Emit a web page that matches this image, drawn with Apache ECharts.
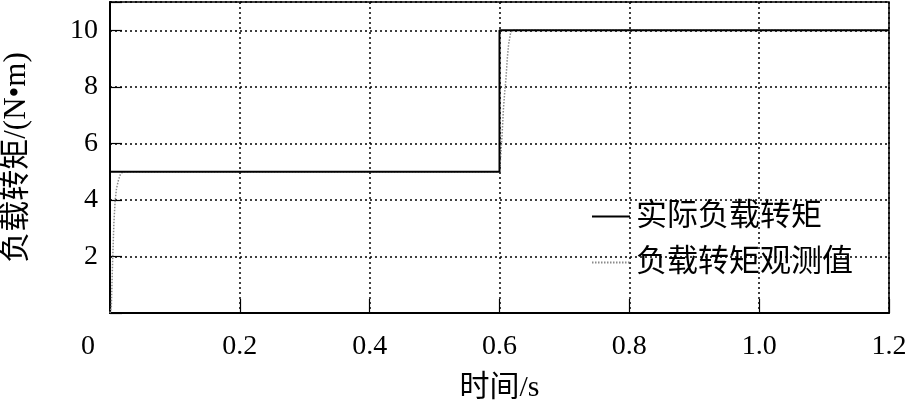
<!DOCTYPE html>
<html><head><meta charset="utf-8">
<script src="https://cdn.jsdelivr.net/npm/echarts@6/dist/echarts.min.js"></script>
<style>html,body{margin:0;padding:0;background:#fff}#c{width:909px;height:408px}</style>
</head><body><div id="c"></div>
<script>
// Data
const seriesNames = ['实际负载转矩', '负载转矩观测值'];
const actualT = [0, 0.6, 0.6, 1.2];
const actualV = [5, 5, 10, 10];
const obsT = [0, 0.002, 0.003, 0.004, 0.005, 0.006, 0.008, 0.010, 0.013, 0.016, 0.020, 0.6, 0.602, 0.604, 0.606, 0.608, 0.610, 0.612, 0.614, 0.617, 0.620, 1.2];
const obsV = [0, 0.2, 1.0, 1.8, 2.5, 3.2, 4.0, 4.4, 4.7, 4.9, 5.0, 5.0, 5.6, 6.3, 7.2, 7.8, 8.3, 9.0, 9.5, 9.9, 10.0, 10.0];
const xTicks = [0, 0.2, 0.4, 0.6, 0.8, 1.0, 1.2];
const yTicks = [0, 2, 4, 6, 8, 10];
const xName = '时间/s';
const yName = '负载转矩/(N•m)';

const FONT = "'Liberation Serif', 'Noto Sans CJK SC', serif";
const chart = echarts.init(document.getElementById('c'), null, {renderer: 'canvas'});
chart.setOption({
  animation: false,
  backgroundColor: '#fff',
  grid: {left: 110, right: 20, top: 2, bottom: 95, show: true, borderColor: '#000', borderWidth: 1.5, containLabel: false, outerBoundsMode: 'none'},
  legend: {
    orient: 'vertical', left: 586, top: 196, itemWidth: 38, itemHeight: 14, itemGap: 15,
    data: seriesNames,
    itemStyle: {opacity: 0},
    textStyle: {fontFamily: FONT, fontSize: 31, color: '#000', lineHeight: 30, padding: [0, 0, 0, 1]}
  },
  xAxis: {
    type: 'value', min: 0, max: 1.2, interval: 0.2,
    name: xName, nameLocation: 'middle', nameGap: 60,
    nameTextStyle: {fontFamily: FONT, fontSize: 30, color: '#000'},
    axisLine: {lineStyle: {color: '#000', width: 2}},
    axisTick: {inside: true, length: 14, lineStyle: {color: '#000', width: 1.2}},
    axisLabel: {
      fontFamily: FONT, fontSize: 28, color: '#000', margin: 20,
      formatter: v => v === 0 ? '{z|0}' : v.toFixed(1),
      rich: {z: {fontFamily: FONT, fontSize: 28, color: '#000', padding: [0, 44, 0, 0]}}
    },
    splitLine: {show: true, lineStyle: {color: '#000', type: [2, 3], width: 1.5}}
  },
  yAxis: {
    type: 'value', min: 0, max: 11, interval: 2,
    name: yName, nameLocation: 'middle', nameGap: 78, nameRotate: 90,
    nameTextStyle: {fontFamily: FONT, fontSize: 31, color: '#000'},
    axisLine: {lineStyle: {color: '#000', width: 2}},
    axisTick: {inside: true, length: 12, lineStyle: {color: '#000', width: 1.2}},
    axisLabel: {
      fontFamily: FONT, fontSize: 28, color: '#000', margin: 12,
      formatter: v => (v === 0 || v > 10) ? '' : String(v)
    },
    splitLine: {show: true, lineStyle: {color: '#000', type: [2, 3], width: 1.5}}
  },
  series: [
    {
      name: seriesNames[1], type: 'line', symbol: 'none', z: 2,
      data: obsT.map((t, i) => [t, obsV[i]]),
      lineStyle: {color: '#8a8a8a', width: 1.5, type: [1.5, 1.5]},
      itemStyle: {color: '#8a8a8a'}
    },
    {
      name: seriesNames[0], type: 'line', symbol: 'none', z: 3,
      data: actualT.map((t, i) => [t, actualV[i]]),
      lineStyle: {color: '#000', width: 2},
      itemStyle: {color: '#000'}
    }
  ]
});
</script></body></html>
